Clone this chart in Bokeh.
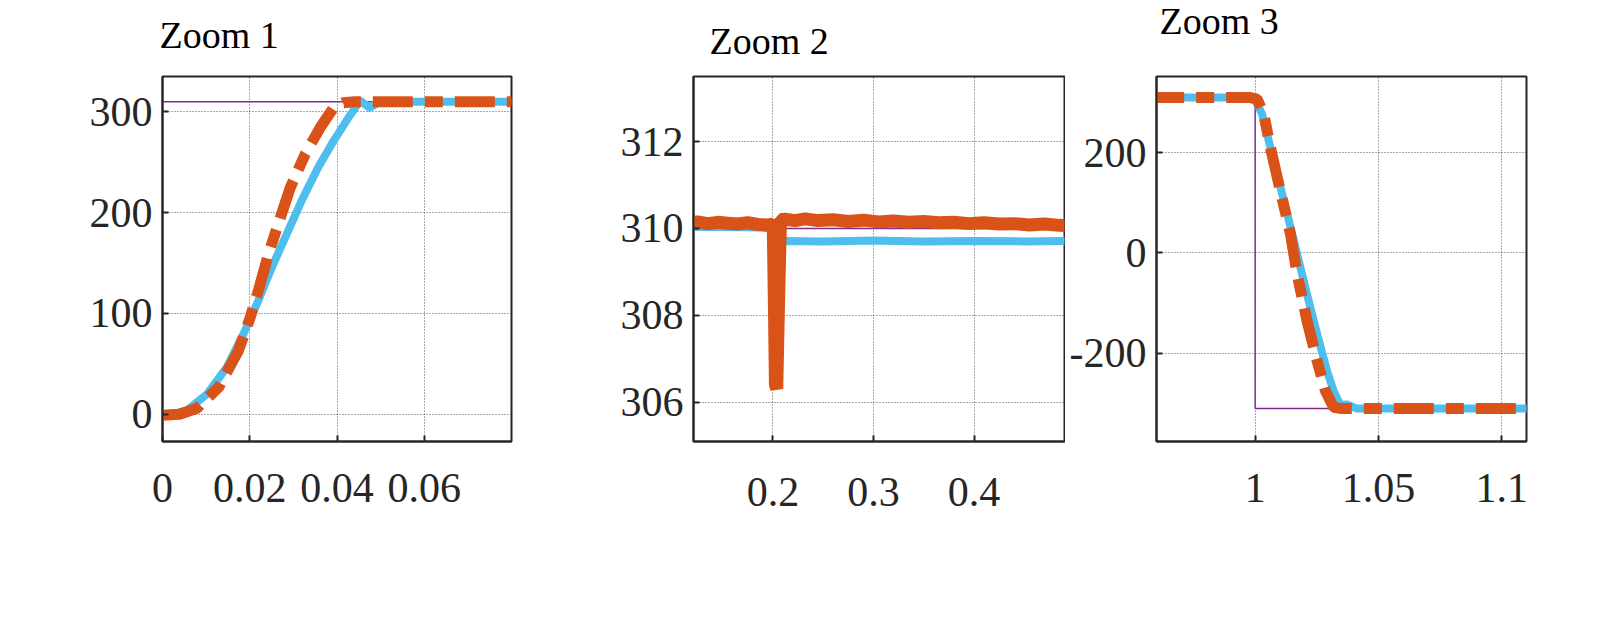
from bokeh.plotting import figure
from bokeh.layouts import row
from bokeh.models import FixedTicker, Range1d, Title
from bokeh.embed import file_html
from bokeh.resources import INLINE

REF_COLOR = "#7E2F8E"
BLUE = "#4DBEEE"
ORANGE = "#D95319"
FONT = "Liberation Serif"

titles = ["Zoom 1", "Zoom 2", "Zoom 3"]

# ---------------- Zoom 1 data ----------------
z1_ref_t = [0.0, 0.08]
z1_ref_v = [310, 310]
z1_blue_t = [0.0, 0.003, 0.0056, 0.0102, 0.0148, 0.0186, 0.022, 0.0251, 0.0285, 0.0319,
             0.0357, 0.0392, 0.0426, 0.0453, 0.0475, 0.0498, 0.055, 0.08]
z1_blue_v = [0, 1, 4, 20, 47, 80, 113, 146, 179, 212, 245, 271, 294, 311, 304, 310, 310, 310]
z1_or_t = [0.0, 0.0039, 0.0079, 0.0129, 0.0174, 0.0201, 0.022, 0.0243, 0.027, 0.0293,
           0.0327, 0.0361, 0.0392, 0.0415, 0.044, 0.08]
z1_or_v = [-1, 0, 6, 27, 63, 96, 123, 159, 195, 225, 258, 284, 304, 309, 310, 310]
z1_xticks = [0, 0.02, 0.04, 0.06]
z1_xlabels = ["0", "0.02", "0.04", "0.06"]
z1_yticks = [0, 100, 200, 300]
z1_ylabels = ["0", "100", "200", "300"]

# ---------------- Zoom 2 data ----------------
z2_ref_t = [0.115, 0.495]
z2_ref_v = [310, 310]
z2_blue_t = [0.115, 0.15, 0.19, 0.1992, 0.2005, 0.2018, 0.203, 0.2045, 0.2062, 0.21,
             0.25, 0.3, 0.35, 0.4, 0.45, 0.495]
z2_blue_v = [310.03, 310.03, 310.02, 310.0, 308.5, 307.0, 306.4, 307.8, 309.7, 309.71,
             309.70, 309.72, 309.70, 309.71, 309.70, 309.71]
z2_or_t = [0.115, 0.125, 0.135, 0.145, 0.155, 0.165, 0.175, 0.185, 0.195, 0.2003,
           0.2015, 0.2025, 0.2038, 0.2055, 0.2075, 0.212, 0.222, 0.232, 0.245, 0.26,
           0.275, 0.29, 0.305, 0.32, 0.335, 0.35, 0.365, 0.38, 0.395, 0.41, 0.425,
           0.44, 0.455, 0.47, 0.485, 0.495]
z2_or_v = [310.12, 310.15, 310.11, 310.14, 310.12, 310.10, 310.13, 310.09, 310.08, 310.1,
           308.2, 306.4, 306.3, 308.2, 310.2, 310.21, 310.18, 310.22, 310.18, 310.20,
           310.16, 310.19, 310.15, 310.17, 310.14, 310.16, 310.13, 310.14, 310.11, 310.13,
           310.10, 310.11, 310.08, 310.10, 310.07, 310.06]
z2_xticks = [0.2, 0.3, 0.4]
z2_xlabels = ["0.2", "0.3", "0.4"]
z2_yticks = [306, 308, 310, 312]
z2_ylabels = ["306", "308", "310", "312"]

# ---------------- Zoom 3 data ----------------
z3_ref_t = [0.955, 1.0, 1.0, 1.115]
z3_ref_v = [310, 310, -310, -310]
z3_blue_t = [0.955, 0.9995, 1.0028, 1.0055, 1.0089, 1.013, 1.017, 1.021, 1.0251, 1.0291,
             1.0318, 1.0345, 1.0372, 1.041, 1.115]
z3_blue_v = [310, 310, 277, 224, 157, 78, -2, -82, -161, -235, -275, -303, -302, -310, -310]
z3_or_t = [0.955, 0.998, 1.0008, 1.0035, 1.0062, 1.0102, 1.0143, 1.017, 1.021, 1.0251,
           1.0285, 1.0318, 1.0345, 1.115]
z3_or_v = [310, 310, 307, 277, 210, 124, 38, -42, -135, -215, -275, -308, -310, -310]
z3_xticks = [1.0, 1.05, 1.1]
z3_xlabels = ["1", "1.05", "1.1"]
z3_yticks = [-200, 0, 200]
z3_ylabels = ["-200", "0", "200"]

TITLE_H = 52.5  # measured panel height of a 38px title (without standoff)


def make_panel(title, t_off, t_valign, t_standoff, width, height, bl, br, bt, bb,
               xr, yr, xticks, xlabels, yticks, ylabels, y_standoff=10, x_standoff=33):
    p = figure(width=width, height=height, output_backend="svg", toolbar_location=None,
               x_range=Range1d(*xr), y_range=Range1d(*yr),
               min_border_left=bl, min_border_right=br, min_border_top=bt,
               min_border_bottom=bb)
    p.background_fill_color = "white"
    p.border_fill_color = "white"
    p.outline_line_color = "#262626"
    p.outline_line_width = 2
    p.outline_line_alpha = 1.0
    for ax in (p.xaxis[0], p.yaxis[0]):
        ax.major_label_text_font = FONT
        ax.major_label_text_font_size = "42px"
        ax.major_label_text_color = "#262626"
        ax.axis_line_color = "#262626"
        ax.axis_line_width = 2
        ax.major_tick_in = 6
        ax.major_tick_out = 0
        ax.major_tick_line_width = 2
        ax.major_tick_line_color = "#262626"
        ax.minor_tick_line_color = None
    p.xaxis.ticker = FixedTicker(ticks=xticks)
    p.xaxis.major_label_overrides = dict(zip(xticks, xlabels))
    p.yaxis.ticker = FixedTicker(ticks=yticks)
    p.yaxis.major_label_overrides = dict(zip(yticks, ylabels))
    p.xaxis.major_label_standoff = x_standoff
    p.yaxis.major_label_standoff = y_standoff
    for g in (p.xgrid[0], p.ygrid[0]):
        g.grid_line_color = "#262626"
        g.grid_line_dash = "1 2"
        g.grid_line_width = 1
        g.grid_line_alpha = 0.8
    # spacer between frame and title, then the title itself (outermost)
    spacer_standoff = max(0, bt - (TITLE_H + t_standoff) - 3.3)
    p.add_layout(Title(text=" ", text_font_size="1px", standoff=spacer_standoff), "above")
    p.add_layout(Title(text=title, text_font=FONT, text_font_size="38px",
                       text_font_style="normal", text_color="#000000",
                       align="left", offset=t_off, vertical_align=t_valign,
                       standoff=t_standoff), "above")
    return p


H = 560
TOP = 76
FRAME_H = 365
p1 = make_panel(titles[0], -3, "bottom", 5, 560, H, 162, 49, TOP, H - TOP - FRAME_H,
                (0.0, 0.08), (-27, 335),
                z1_xticks, z1_xlabels, z1_yticks, z1_ylabels, x_standoff=32)
p2 = make_panel(titles[1], 16, "bottom", 16, 505, H, 133, 1, TOP, H - TOP - FRAME_H,
                (0.121, 0.49), (305.09, 313.5),
                z2_xticks, z2_xlabels, z2_yticks, z2_ylabels, x_standoff=36)
p3 = make_panel(titles[2], 3, "top", -20, 539, H, 91, 78, TOP, H - TOP - FRAME_H,
                (0.96, 1.11), (-376, 352),
                z3_xticks, z3_xlabels, z3_yticks, z3_ylabels, x_standoff=32)

DASH = "40 12 18 12"

p1.line(z1_ref_t, z1_ref_v, line_color=REF_COLOR, line_width=1.5)
p1.line(z1_blue_t, z1_blue_v, line_color=BLUE, line_width=8, line_join="round")
p1.line(z1_or_t, z1_or_v, line_color=ORANGE, line_width=11, line_dash=DASH, line_cap="butt")

p2.line(z2_ref_t, z2_ref_v, line_color=REF_COLOR, line_width=1.5)
p2.line(z2_blue_t, z2_blue_v, line_color=BLUE, line_width=8)
p2.line(z2_or_t, z2_or_v, line_color=ORANGE, line_width=13)

p3.line(z3_ref_t, z3_ref_v, line_color=REF_COLOR, line_width=1.5)
p3.line(z3_blue_t, z3_blue_v, line_color=BLUE, line_width=8, line_join="round")
p3.line(z3_or_t, z3_or_v, line_color=ORANGE, line_width=11, line_dash=DASH, line_cap="butt")

layout = row(p1, p2, p3, spacing=0)
open("out.html", "w").write(file_html(layout, INLINE))
